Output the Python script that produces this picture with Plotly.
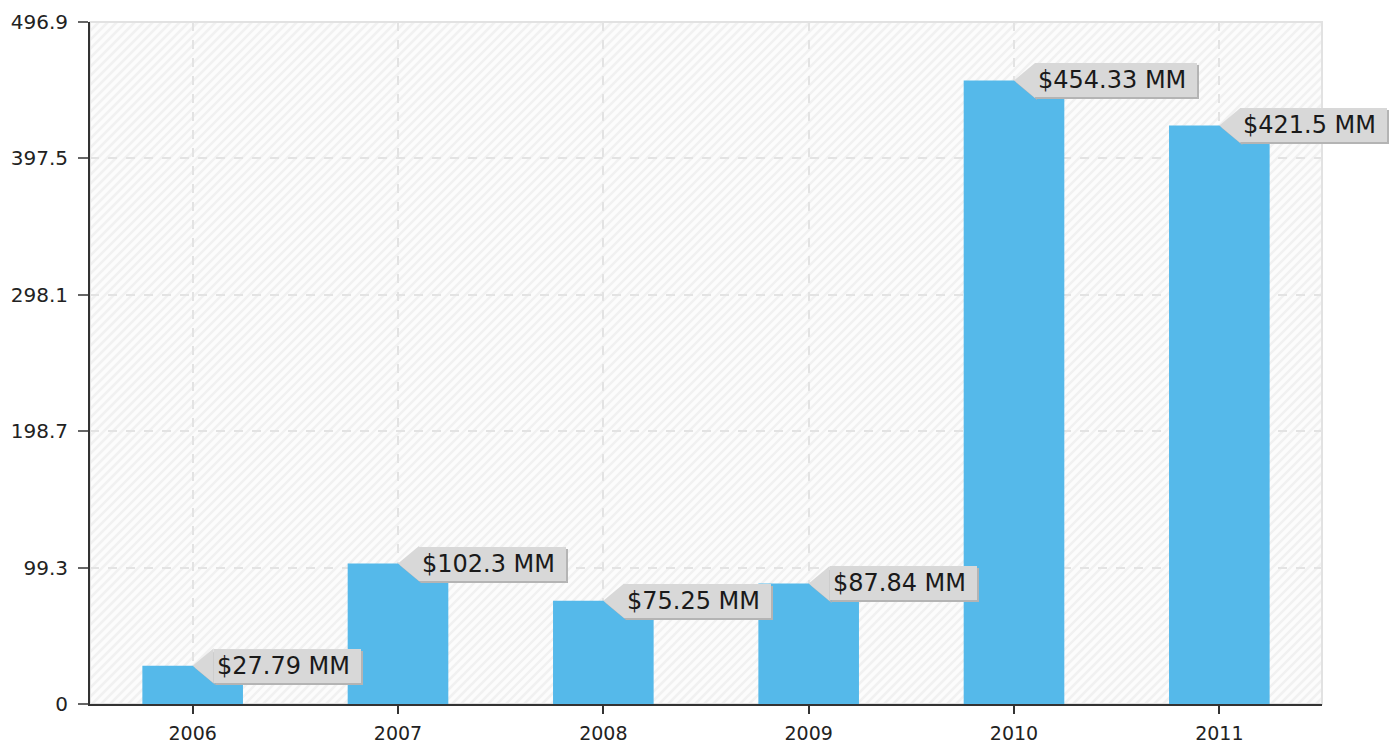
import plotly.graph_objects as go

# Annual figures, in millions of dollars
years = ["2006", "2007", "2008", "2009", "2010", "2011"]
values = [27.79, 102.3, 75.25, 87.84, 454.33, 421.5]

# Value axis
y_max = 496.9
y_tick_labels = ["0", "99.3", "198.7", "298.1", "397.5", "496.9"]

FIG_W, FIG_H = 1395, 746
M_L, M_R, M_T, M_B = 90, 73, 22, 42
BAR_COLOR = "#55b9ea"
TAG_COLOR = "#d8d8d8"
TAG_SHADOW = "#b4b4b4"
FONT = "DejaVu Sans"

labels = [f"${v:g} MM" for v in values]
y_tick_vals = [y_max * i / (len(y_tick_labels) - 1) for i in range(len(y_tick_labels))]

fig = go.Figure()
fig.add_trace(go.Bar(
    x=years, y=values, width=0.49,
    marker=dict(color=BAR_COLOR, line=dict(width=0)),
    hoverinfo="skip",
))

shapes = []

# Faint diagonal hatching over the plot background
pw, ph = FIG_W - M_L - M_R, FIG_H - M_T - M_B
step = 9
parts = []
c = -ph
while c < pw:
    if c >= 0:
        x0, y0 = c, 0
    else:
        x0, y0 = 0, -c
    if c + ph <= pw:
        x1, y1 = c + ph, ph
    else:
        x1, y1 = pw, pw - c
    parts.append(f"M{x0 / pw:.5f},{y0 / ph:.5f} L{x1 / pw:.5f},{y1 / ph:.5f}")
    c += step
shapes.append(dict(type="path", xref="paper", yref="paper", path=" ".join(parts),
                   line=dict(color="#f1f1f1", width=2.5), layer="below"))

# Light frame around the plot area
shapes.append(dict(type="rect", xref="paper", yref="paper", x0=0, y0=0, x1=1, y1=1,
                   line=dict(color="#e2e2e2", width=2), layer="below"))

# Tag pointers at the top of each bar
TIP = 21
HALF = 17.5
annotations = []
for i, (v, lab) in enumerate(zip(values, labels)):
    shapes.append(dict(type="path", xref="x", yref="y", xsizemode="pixel", ysizemode="pixel",
                       xanchor=i, yanchor=v,
                       path=f"M2,-2 L{TIP + 2},{HALF - 2} L{TIP + 2},{-HALF - 2} Z",
                       fillcolor=TAG_SHADOW, line=dict(width=0), layer="above"))
    shapes.append(dict(type="path", xref="x", yref="y", xsizemode="pixel", ysizemode="pixel",
                       xanchor=i, yanchor=v,
                       path=f"M0,0 L{TIP},{HALF} L{TIP},{-HALF} Z",
                       fillcolor=TAG_COLOR, line=dict(width=0), layer="above"))
    text = lab + "\u00a0"
    # drop shadow behind the label box
    annotations.append(dict(x=i, y=v, xref="x", yref="y", text=text,
                            showarrow=False, xanchor="left", yanchor="middle",
                            xshift=TIP + 2, yshift=-2,
                            font=dict(family=FONT, size=24, color=TAG_SHADOW),
                            bgcolor=TAG_SHADOW, borderpad=2, borderwidth=1,
                            bordercolor=TAG_SHADOW))
    annotations.append(dict(x=i, y=v, xref="x", yref="y", text=text,
                            showarrow=False, xanchor="left", yanchor="middle",
                            xshift=TIP,
                            font=dict(family=FONT, size=24, color="#1a1a1a"),
                            bgcolor=TAG_COLOR, borderpad=2, borderwidth=1,
                            bordercolor=TAG_COLOR))

fig.update_layout(
    width=FIG_W, height=FIG_H, autosize=False,
    margin=dict(l=M_L, r=M_R, t=M_T, b=M_B, pad=0, autoexpand=False),
    paper_bgcolor="white", plot_bgcolor="#fcfcfc",
    showlegend=False, bargap=0.5,
    shapes=shapes, annotations=annotations,
    font=dict(family=FONT, color="#222222"),
)
fig.update_xaxes(
    type="category", range=[-0.5, len(years) - 0.5], automargin=False,
    showgrid=True, gridcolor="#e3e3e3", gridwidth=2, griddash="dash",
    showline=True, linecolor="#333333", linewidth=2, layer="below traces",
    ticks="outside", ticklen=8, tickwidth=2, tickcolor="#333333",
    ticklabelstandoff=3,
    tickfont=dict(family=FONT, size=19, color="#222222"),
    zeroline=False, fixedrange=True,
)
fig.update_yaxes(
    range=[0, y_max], tickvals=y_tick_vals, ticktext=y_tick_labels, automargin=False,
    showgrid=True, gridcolor="#e3e3e3", gridwidth=2, griddash="dash",
    showline=True, linecolor="#333333", linewidth=2,
    ticks="outside", ticklen=10, tickwidth=2, tickcolor="#666666",
    ticklabelstandoff=6,
    tickfont=dict(family=FONT, size=20, color="#222222"),
    zeroline=False, fixedrange=True,
)

fig.write_html("out.html", config={"displayModeBar": False})
